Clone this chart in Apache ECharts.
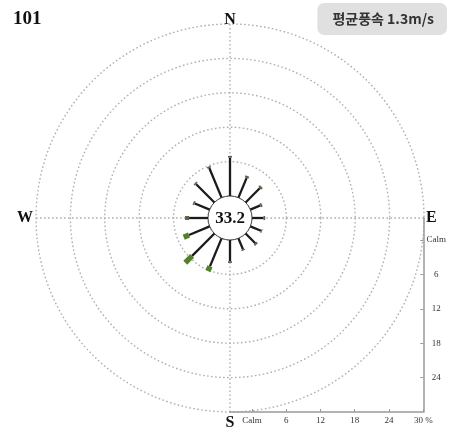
<!DOCTYPE html>
<html>
<head>
<meta charset="utf-8">
<script src="https://cdn.jsdelivr.net/npm/echarts@6/dist/echarts.min.js"></script>
<style>
  html, body { margin: 0; padding: 0; background: #fff; }
  #chart { width: 449px; height: 435px; }
</style>
</head>
<body>
<div id="chart"></div>
<script>
// Station wind rose: 16 directions, frequency (%) by wind-speed class
const stationName = '101';
const meanSpeedLabel = '평균풍속 1.3m/s';
const calmPercent = 33.2;
const directions = ['N', 'NNE', 'NE', 'ENE', 'E', 'ESE', 'SE', 'SSE',
                    'S', 'SSW', 'SW', 'WSW', 'W', 'WNW', 'NW', 'NNW'];
const lowSpeed  = [6.7, 3.7, 3.5, 1.9, 2.0, 2.0, 2.4, 2.1, 3.7, 5.3, 5.5, 3.9, 3.3, 2.8, 4.5, 5.6];
const midSpeed  = [0.3, 0.4, 0.4, 0.3, 0.3, 0.2, 0.3, 0.2, 0.3, 0.0, 0.0, 0.0, 0.7, 0.3, 0.3, 0.3];
const highSpeed = [0.0, 0.0, 0.0, 0.0, 0.0, 0.0, 0.0, 0.0, 0.0, 0.9, 1.7, 1.0, 0.0, 0.0, 0.0, 0.0];
const scaleTicks = [0, 6, 12, 18, 24, 30];
const compassLabels = { 0: '{n|N}', 90: '{e|E}', 180: '{s|S}', 270: '{w|W}' };

// layout of the rose
const CX = 230, CY = 218, R0 = 22, R1 = 194;
const SCALE_MAX = 30;
const scaleMin = -R0 * SCALE_MAX / (R1 - R0);   // axis origin sits on the rose centre

const roseData = directions.map((d, i) => [i * 360 / directions.length, lowSpeed[i], midSpeed[i], highSpeed[i]]);

const serif = '"Liberation Serif", "DejaVu Serif", serif';
const ringStyle = { color: '#b0b0b0', type: [1.6, 2.4], width: 1.4 };
const scaleAxisLine = { onZero: false, lineStyle: { color: '#9a9a9a', width: 1.5 } };
const scaleLabel = (v) => v === 0 ? 'Calm' : (v === SCALE_MAX ? '30 %' : String(v));
const compassFont = { fontFamily: serif, fontWeight: 'bold', fontSize: 16, color: '#111' };

const chart = echarts.init(document.getElementById('chart'), null, { renderer: 'canvas' });
chart.setOption({
  backgroundColor: '#fff',
  animation: false,
  title: [
    {
      text: stationName, left: 8, top: 5,
      textStyle: { fontFamily: serif, fontWeight: 'bold', fontSize: 19, color: '#111' }
    },
    {
      text: meanSpeedLabel, right: 2, top: 3,
      backgroundColor: '#e0e0e0', borderRadius: 7,
      padding: [9, 13, 9, 15],
      textStyle: { fontFamily: '"Noto Sans CJK KR", "Noto Sans", sans-serif', fontWeight: 'bold', fontSize: 14, color: '#333' }
    }
  ],
  polar: { center: [CX, CY], radius: [R0, R1] },
  angleAxis: {
    type: 'value', min: 0, max: 360, interval: 90,
    startAngle: 90, clockwise: true,
    axisLine: { show: false }, axisTick: { show: false },
    splitLine: { show: true, lineStyle: ringStyle },
    axisLabel: {
      margin: -4,
      formatter: (v) => compassLabels[v] || '',
      rich: {
        n: Object.assign({ padding: [0, 0, 0, 0] }, compassFont),
        e: Object.assign({ padding: [0, 0, 0, 6] }, compassFont),
        s: Object.assign({ padding: [7, 0, 0, 0] }, compassFont),
        w: Object.assign({ padding: [0, 7, 0, 0] }, compassFont)
      }
    }
  },
  radiusAxis: {
    type: 'value', min: 0, max: SCALE_MAX, interval: 6,
    axisLine: { show: false }, axisTick: { show: false }, axisLabel: { show: false },
    splitLine: { show: true, lineStyle: ringStyle }
  },
  grid: { left: CX, top: CY, width: R1, height: R1 },
  xAxis: {
    type: 'value', min: scaleMin, max: SCALE_MAX,
    axisLine: scaleAxisLine,
    splitLine: { show: false },
    axisTick: { show: true, inside: true, length: 3, customValues: scaleTicks, lineStyle: { color: '#9a9a9a' } },
    axisLabel: { customValues: scaleTicks, formatter: scaleLabel, margin: 4,
                 fontFamily: serif, fontSize: 9, color: '#333' }
  },
  yAxis: {
    type: 'value', min: scaleMin, max: SCALE_MAX, inverse: true, position: 'right',
    axisLine: scaleAxisLine,
    splitLine: { show: false },
    axisTick: { show: true, inside: true, length: 3, customValues: scaleTicks.slice(0, -1), lineStyle: { color: '#9a9a9a' } },
    axisLabel: { customValues: scaleTicks.slice(0, -1), formatter: scaleLabel, margin: 13, align: 'center',
                 fontFamily: serif, fontSize: 9, color: '#333' }
  },
  series: [
    {
      // calm circle with its percentage
      type: 'custom', coordinateSystem: 'polar',
      data: [[0, 0]], encode: { radius: 0, angle: 1 },
      z: 3, silent: true,
      renderItem: (params, api) => {
        const cs = params.coordSys;
        return {
          type: 'group',
          children: [
            { type: 'circle', shape: { cx: cs.cx, cy: cs.cy, r: cs.r0 },
              style: { fill: '#fff', stroke: '#444', lineWidth: 1 } },
            { type: 'text', x: cs.cx, y: cs.cy + 1,
              style: { text: calmPercent.toFixed(1), align: 'center', verticalAlign: 'middle',
                       font: 'bold 17px ' + serif, fill: '#111' } }
          ]
        };
      }
    },
    {
      // stacked spokes: low (black), mid (olive tip), high (green)
      type: 'custom', coordinateSystem: 'polar',
      data: roseData, encode: { angle: 0, radius: 1 },
      z: 4, silent: true,
      renderItem: (params, api) => {
        const a = api.value(0);
        const parts = [
          { v: api.value(1), color: '#1b1b1b', width: 2.3 },
          { v: api.value(2), color: '#5e6348', width: 4 },
          { v: api.value(3), color: '#55802b', width: 5.5 }
        ];
        let start = 0;
        const children = [];
        parts.forEach((p) => {
          if (p.v > 0) {
            const s = api.coord([start, a]);
            const e = api.coord([start + p.v, a]);
            children.push({
              type: 'line',
              shape: { x1: s[0], y1: s[1], x2: e[0], y2: e[1] },
              style: { stroke: p.color, lineWidth: p.width, lineCap: 'butt' }
            });
          }
          start += p.v;
        });
        return { type: 'group', children };
      }
    }
  ]
});
</script>
</body>
</html>
